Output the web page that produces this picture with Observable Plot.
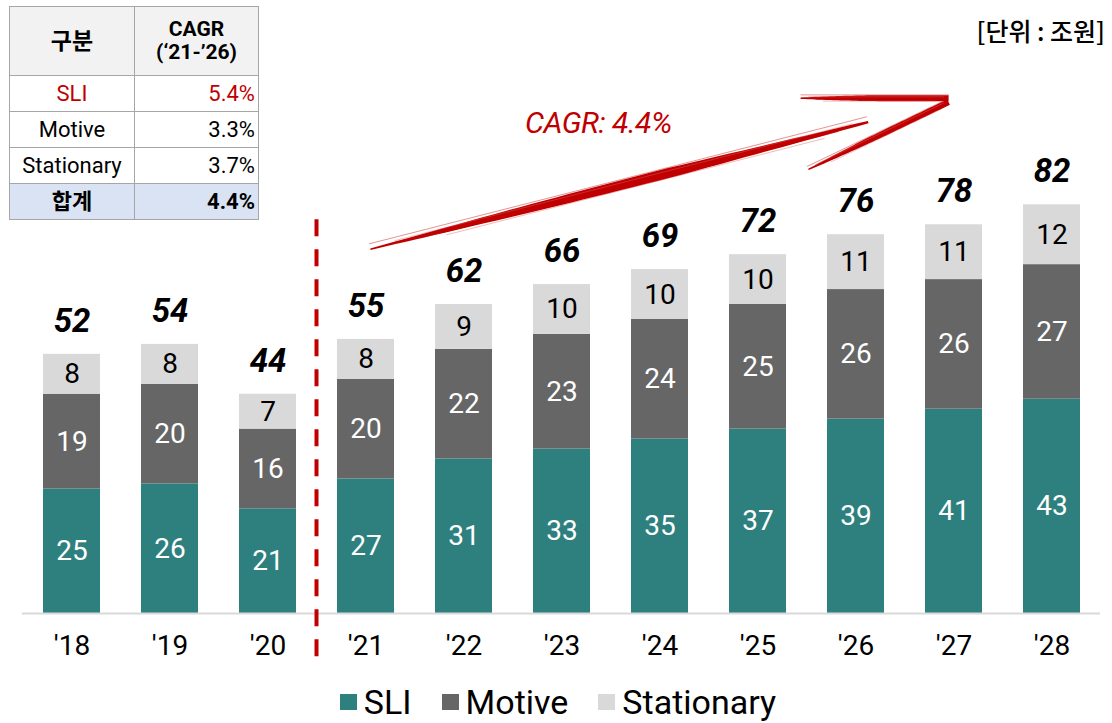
<!DOCTYPE html>
<html><head><meta charset="utf-8">
<script src="https://cdn.jsdelivr.net/npm/d3@7"></script>
<script src="https://cdn.jsdelivr.net/npm/@observablehq/plot@0.6"></script>
<style>
body{margin:0;background:#fff;font-family:Roboto,"Noto Sans CJK KR",sans-serif;}
#wrap{position:relative;width:1112px;height:723px;overflow:hidden}
#chart{position:absolute;left:0;top:0}
#legend{position:absolute;left:0;top:680px;width:1112px;height:43px;display:flex;align-items:center;justify-content:center;padding-left:4px;box-sizing:border-box;font-size:34px;color:#000}
#legend .item{display:flex;align-items:center;margin:0 15px}
#legend .sw{width:17px;height:16px;margin-right:7px}
#cagr{position:absolute;left:9px;top:6px;border-collapse:collapse;font-size:22px;color:#000}
#cagr td{border:1.5px solid #A6A6A6;padding:0 3px;height:35px;line-height:1}
#cagr tr.head td{height:68px;background:#F2F2F2;font-weight:bold;text-align:center}
#cagr td.l{width:118px;text-align:center}
#cagr td.r{width:117px;text-align:right}
#cagr tr.sum td{background:#DAE3F3;font-weight:bold}
#unit{position:absolute;right:7px;top:12px;font-size:25px;font-family:"Noto Sans CJK KR",sans-serif;font-weight:500;color:#000}
#cagrLabel{position:absolute;left:525px;top:105px;font-size:30px;font-style:italic;color:#C00000;letter-spacing:-0.5px}
</style></head><body>
<div id="wrap">
 <div id="chart"></div>
 <div id="legend"></div>
 <table id="cagr"></table>
 <div id="unit">[단위 : 조원]</div>
 <div id="cagrLabel">CAGR: 4.4%</div>
</div>
<script>
// ---- data ----
const years = ["'18","'19","'20","'21","'22","'23","'24","'25","'26","'27","'28"];
const sli = [25,26,21,27,31,33,35,37,39,41,43];
const motive = [19,20,16,20,22,23,24,25,26,26,27];
const stationary = [8,8,7,8,9,10,10,10,11,11,12];
const totals = [52,54,44,55,62,66,69,72,76,78,82];
const seriesNames = ["SLI","Motive","Stationary"];
const seriesColors = ["#2E807E","#666666","#D9D9D9"];
const tableHeader = ["구분","CAGR<br>(‘21-’26)"];
const tableLabels = ["SLI","Motive","Stationary","합계"];
const tableValues = ["5.4%","3.3%","3.7%","4.4%"];
const cagrText = "CAGR: 4.4%";
// arrow anchors: [category index (fractional), value]
const arrowShaft = [[3.05,73],[8.13,98.5]];
const arrowTop = [[7.44,103.3],[8.95,103.3]];
const arrowLow = [[7.52,89],[8.95,102.5]];
const dividerRange = [79,-10];

// ---- rows ----
const seriesValues = [sli, motive, stationary];
const rows = [];
years.forEach((yr,i)=>{
  let base = 0;
  seriesNames.forEach((s,k)=>{
    const v = seriesValues[k][i];
    rows.push({year:yr, series:s, value:v, y0:base, y1:base+v});
    base += v;
  });
});
const totalRows = years.map((yr,i)=>({year:yr,total:totals[i]}));

const font = "Roboto, 'Noto Sans CJK KR', sans-serif";
const plot = Plot.plot({
  width:1112, height:680,
  marginTop:0, marginBottom:67, marginLeft:22, marginRight:12,
  x:{domain:years, paddingInner:0.42, paddingOuter:0.21, axis:null},
  y:{domain:[0,123], axis:null},
  color:{domain:seriesNames, range:seriesColors},
  style:{fontFamily:font, background:"transparent", overflow:"visible"},
  marks:[
    Plot.barY(rows, {x:"year", y:"value", fill:"series"}),
    Plot.ruleY([0], {stroke:"#D9D9D9", strokeWidth:2}),
    Plot.text(rows.filter(d=>d.series!=="Stationary"), {x:"year", y:d=>(d.y0+d.y1)/2, text:d=>String(d.value), fill:"#fff", fontSize:28}),
    Plot.text(rows.filter(d=>d.series==="Stationary"), {x:"year", y:d=>(d.y0+d.y1)/2, text:d=>String(d.value), fill:"#000", fontSize:28}),
    Plot.text(totalRows, {x:"year", y:"total", text:d=>String(d.total), dy:-33, fontSize:33, fontWeight:"bold", fontStyle:"italic", fill:"#000"}),
    Plot.axisX({tickSize:0, tickPadding:22, fontSize:28, label:null, fill:"#000"})
  ]
});
document.getElementById("chart").appendChild(plot);

// ---- overlay: divider and CAGR arrow anchored to scales ----
const xs = plot.scale("x"), ys = plot.scale("y");
const step = xs.apply(years[1]) - xs.apply(years[0]);
const bw = xs.bandwidth;
const cx = i => xs.apply(years[0]) + bw/2 + i*step;
const svg = d3.select(plot);
const g = svg.append("g");
const divX = (cx(2)+cx(3))/2;
g.append("line").attr("x1",divX).attr("x2",divX)
  .attr("y1",ys.apply(dividerRange[0])).attr("y2",ys.apply(dividerRange[1]))
  .attr("stroke","#C00000").attr("stroke-width",4).attr("stroke-dasharray","17 13");

function tapered(a,b,w0,wm,w1,n=40){
  const x0=cx(a[0]),y0=ys.apply(a[1]),x1=cx(b[0]),y1=ys.apply(b[1]);
  const dx=x1-x0, dy=y1-y0, L=Math.hypot(dx,dy), nx=-dy/L, ny=dx/L;
  const up=[],dn=[];
  for(let k=0;k<=n;k++){
    const t=k/n;
    const w = t<0.6 ? w0+(wm-w0)*Math.sin(t/0.6*Math.PI/2) : wm+(w1-wm)*((t-0.6)/0.4);
    const px=x0+dx*t, py=y0+dy*t;
    up.push([px+nx*w/2,py+ny*w/2]); dn.push([px-nx*w/2,py-ny*w/2]);
  }
  return [...up,...dn.reverse()];
}
function drawStroke(a,b,w0,wm,w1){
  const pts = tapered(a,b,w0,wm,w1);
  g.append("path").attr("d","M"+pts.map(p=>p.join(",")).join("L")+"Z").attr("fill","#C00000");
  const x0=cx(a[0]),y0=ys.apply(a[1]),x1=cx(b[0]),y1=ys.apply(b[1]);
  const L=Math.hypot(x1-x0,y1-y0), nx=-(y1-y0)/L, ny=(x1-x0)/L;
  [-0.5,-0.2,0.15,0.45].forEach((o,j)=>{
    const off=o*wm*1.1;
    g.append("line").attr("x1",x0+nx*off+(x1-x0)*0.05*j).attr("y1",y0+ny*off+(y1-y0)*0.05*j)
      .attr("x2",x1+nx*off-(x1-x0)*0.03*j).attr("y2",y1+ny*off-(y1-y0)*0.03*j)
      .attr("stroke",j%2?"#E06060":"#C00000").attr("stroke-width",0.7).attr("opacity",0.6);
  });
}
drawStroke(arrowShaft[0],arrowShaft[1],1.5,10,2.5);
drawStroke(arrowTop[0],arrowTop[1],1.5,6,6);
drawStroke(arrowLow[0],arrowLow[1],1.5,6,6);

// ---- legend ----
const lg = document.getElementById("legend");
seriesNames.forEach((s,k)=>{
  const it=document.createElement("div"); it.className="item";
  it.innerHTML=`<span class="sw" style="background:${seriesColors[k]}"></span><span>${s}</span>`;
  lg.appendChild(it);
});

// ---- table ----
const tb = document.getElementById("cagr");
let html = `<tr class="head"><td class="l" style="font-size:23px">${tableHeader[0]}</td><td class="r" style="text-align:center;font-size:21px;line-height:1.1">${tableHeader[1]}</td></tr>`;
tableLabels.forEach((l,i)=>{
  const cls = i===tableLabels.length-1 ? "sum" : "";
  const col = i===0 ? "color:#C00000" : "";
  html += `<tr class="${cls}"><td class="l" style="${col}">${l}</td><td class="r" style="${col}">${tableValues[i]}</td></tr>`;
});
tb.innerHTML = html;
document.getElementById("cagrLabel").textContent = cagrText;
</script>
</body></html>
